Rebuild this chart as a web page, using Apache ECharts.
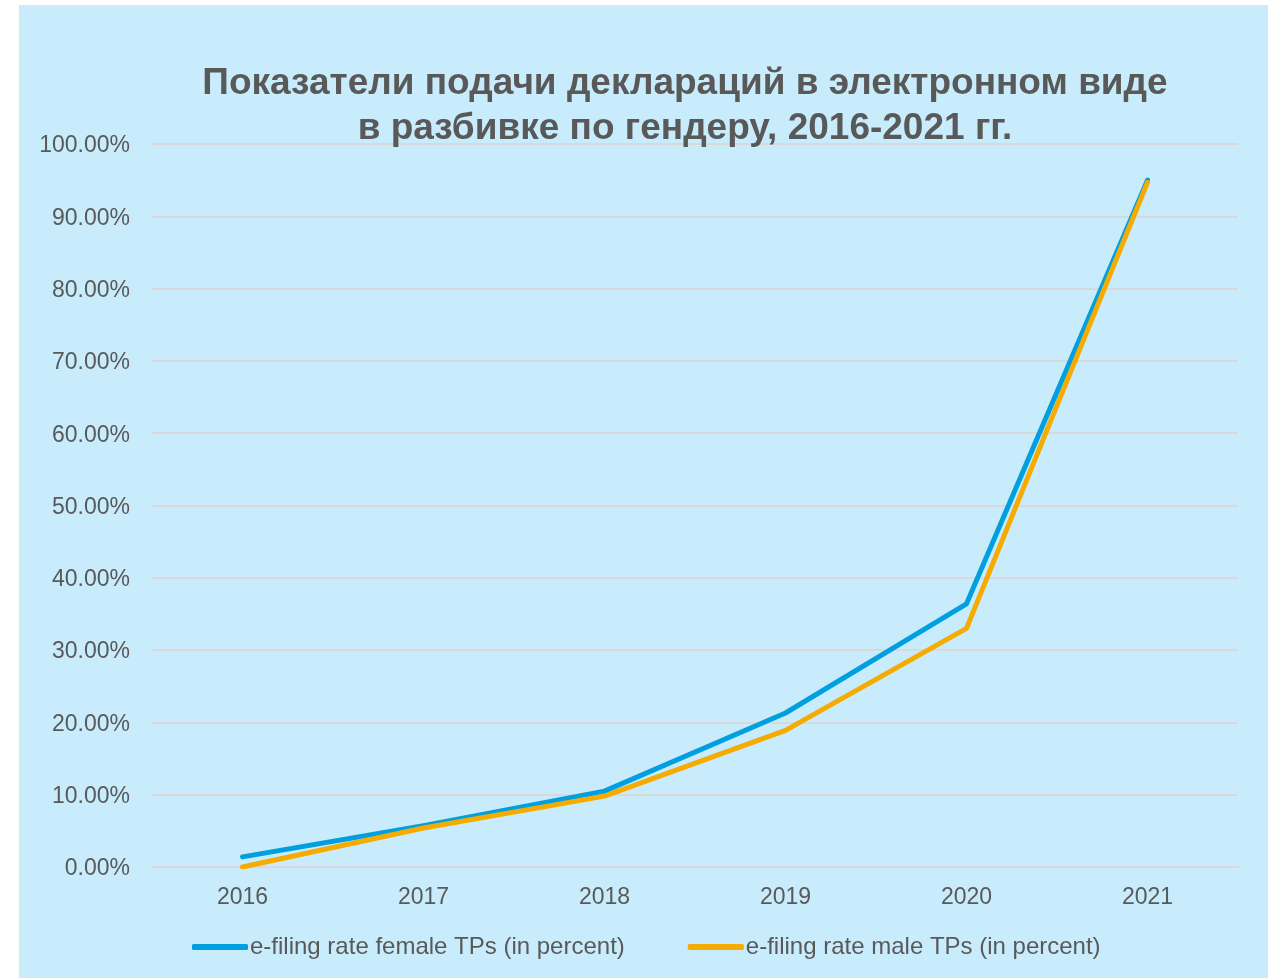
<!DOCTYPE html>
<html><head><meta charset="utf-8">
<script src="https://cdn.jsdelivr.net/npm/echarts@6/dist/echarts.min.js"></script>
<style>
html,body{margin:0;padding:0;background:#fff;width:1268px;height:978px;overflow:hidden;}
#c{position:absolute;left:19px;top:5px;width:1249px;height:973px;}
</style></head><body>
<div id="c"></div>
<script>
var categories = ['2016','2017','2018','2019','2020','2021'];
var femaleValues = [1.4, 5.7, 10.5, 21.3, 36.4, 95.0];
var maleValues = [0.0, 5.4, 9.8, 18.9, 33.0, 94.7];
var seriesNames = ['e-filing rate female TPs (in percent)', 'e-filing rate male TPs (in percent)'];
var titleLines = ['Показатели подачи деклараций в электронном виде', 'в разбивке по гендеру, 2016-2021 гг.'];

var chart = echarts.init(document.getElementById('c'));
var txt = '#595959';
chart.setOption({
  backgroundColor: '#c8ecfc',
  animation: false,
  textStyle: {fontFamily: 'Liberation Sans, Arial, sans-serif'},
  graphic: [{
    type: 'text', x: 666, y: 56, z: 100,
    style: {text: titleLines.join('\n'), fill: txt, font: 'bold 37px "Liberation Sans", Arial, sans-serif', textAlign: 'center', lineHeight: 45}
  }],
  grid: {left: 133, right: 30, top: 139, bottom: 111, containLabel: false},
  legend: {
    data: seriesNames, left: 173, top: 930, padding: 0, itemWidth: 56, itemHeight: 6, itemGap: 63,
    icon: 'roundRect',
    textStyle: {color: txt, fontSize: 24, fontFamily: 'Liberation Sans, Arial, sans-serif', padding: [0, 0, 0, -3]}
  },
  xAxis: {
    type: 'category', data: categories, boundaryGap: true,
    axisLine: {lineStyle: {color: '#d9d9d9', width: 2}},
    axisTick: {show: false},
    axisLabel: {color: txt, fontSize: 23, margin: 19}
  },
  yAxis: {
    type: 'value', min: 0, max: 100, interval: 10,
    axisLine: {show: false}, axisTick: {show: false},
    splitLine: {lineStyle: {color: '#d9d9d9', width: 2}},
    axisLabel: {color: txt, fontSize: 23, margin: 22,
      formatter: function(v){return '{a|' + v.toFixed(2) + '%}';},
      rich: {a: {color: txt, fontSize: 23, padding: [4, 0, 0, 0]}}}
  },
  series: [
    {name: seriesNames[0], type: 'line', data: femaleValues, showSymbol: false, symbol: 'none',
     lineStyle: {color: '#009fdf', width: 5, cap: 'round', join: 'round'}, itemStyle: {color: '#009fdf'}},
    {name: seriesNames[1], type: 'line', data: maleValues, showSymbol: false, symbol: 'none',
     lineStyle: {color: '#f5ab00', width: 5, cap: 'round', join: 'round'}, itemStyle: {color: '#f5ab00'}}
  ]
});
</script></body></html>
